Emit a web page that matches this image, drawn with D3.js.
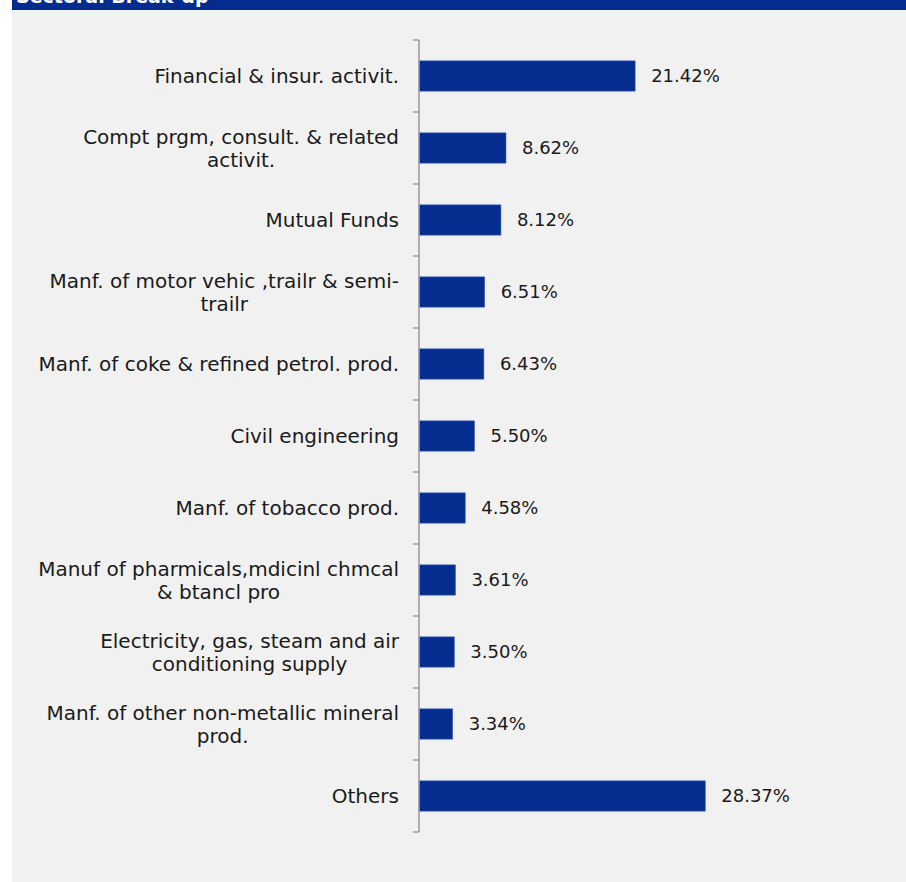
<!DOCTYPE html>
<html>
<head>
<meta charset="utf-8">
<script src="https://cdn.jsdelivr.net/npm/d3@7"></script>
<style>
  body { margin: 0; background: #fff; }
  svg { display: block; }
</style>
</head>
<body>
<div id="chart"></div>
<script>
// sector names, "|" marks a line break
const sectors = [
  "Financial & insur. activit.",
  "Compt prgm, consult. & related|activit.",
  "Mutual Funds",
  "Manf. of motor vehic ,trailr & semi-|trailr",
  "Manf. of coke & refined petrol. prod.",
  "Civil engineering",
  "Manf. of tobacco prod.",
  "Manuf of pharmicals,mdicinl chmcal|& btancl pro",
  "Electricity, gas, steam and air|conditioning supply",
  "Manf. of other non-metallic mineral|prod.",
  "Others"
];
const shares = [21.42, 8.62, 8.12, 6.51, 6.43, 5.50, 4.58, 3.61, 3.50, 3.34, 28.37];
const title = "Sectoral Break-up";

const W = 906, H = 882;
const font = "'Century Gothic', 'DejaVu Sans', sans-serif";

const svg = d3.select("#chart").append("svg")
  .attr("width", W)
  .attr("height", H);

// header strip and panel
svg.append("rect").attr("x", 12).attr("y", 0).attr("width", W - 12).attr("height", 10).attr("fill", "#042c8f");
svg.append("rect").attr("x", 12).attr("y", 10).attr("width", W - 12).attr("height", H - 10).attr("fill", "#f1f1f1");
svg.append("text")
  .attr("x", 16).attr("y", 3)
  .attr("fill", "#fff")
  .style("font", "bold 19px " + font)
  .text(title);

const x = d3.scaleLinear().domain([0, 30]).range([419, 419 + 302.7]);
const y = d3.scaleBand().domain(sectors).range([40, 832]).paddingInner(0.58).paddingOuter(0.29);

// bars
svg.append("g")
  .selectAll("rect")
  .data(shares)
  .join("rect")
    .attr("x", x(0))
    .attr("y", (d, i) => y(sectors[i]))
    .attr("width", d => x(d) - x(0))
    .attr("height", y.bandwidth())
    .attr("fill", "#052d8f")
    .attr("stroke", "#3c5fb4")
    .attr("stroke-width", 0.6);

// value labels
svg.append("g")
  .selectAll("text")
  .data(shares)
  .join("text")
    .attr("x", d => x(d) + 16)
    .attr("y", (d, i) => y(sectors[i]) + y.bandwidth() / 2)
    .attr("dy", "0.36em")
    .attr("fill", "#1a1a1a")
    .style("font", "18px " + font)
    .text(d => d.toFixed(2) + "%");

// category axis (band edges get the ticks)
const step = y.step();
const edges = d3.range(sectors.length + 1).map(i => 40 + i * step);
const axis = svg.append("g");
axis.append("line")
  .attr("x1", 419).attr("x2", 419)
  .attr("y1", 40).attr("y2", 832)
  .attr("stroke", "#9a9a9a").attr("stroke-width", 1.5);
axis.selectAll("line.tick")
  .data(edges)
  .join("line")
    .attr("class", "tick")
    .attr("x1", 413).attr("x2", 419)
    .attr("y1", d => d).attr("y2", d => d)
    .attr("stroke", "#9a9a9a").attr("stroke-width", 1.5);

// category labels, multi-line ones centred on each other
const labels = svg.append("g")
  .selectAll("text")
  .data(sectors)
  .join("text")
    .attr("fill", "#1a1a1a")
    .style("font", "20px " + font);

labels.each(function(s) {
  const lines = s.split("|");
  const t = d3.select(this);
  const cy = y(s) + y.bandwidth() / 2;
  const lh = 23;
  lines.forEach((ln, j) => {
    t.append("tspan")
      .attr("y", cy + (j - (lines.length - 1) / 2) * lh)
      .attr("dy", "0.36em")
      .text(ln);
  });
  // right-align the block, centre lines inside it
  const widths = t.selectAll("tspan").nodes().map(n => n.getComputedTextLength());
  const maxW = d3.max(widths);
  const right = 399;
  t.selectAll("tspan")
    .attr("text-anchor", "middle")
    .attr("x", right - maxW / 2);
});
</script>
</body>
</html>
